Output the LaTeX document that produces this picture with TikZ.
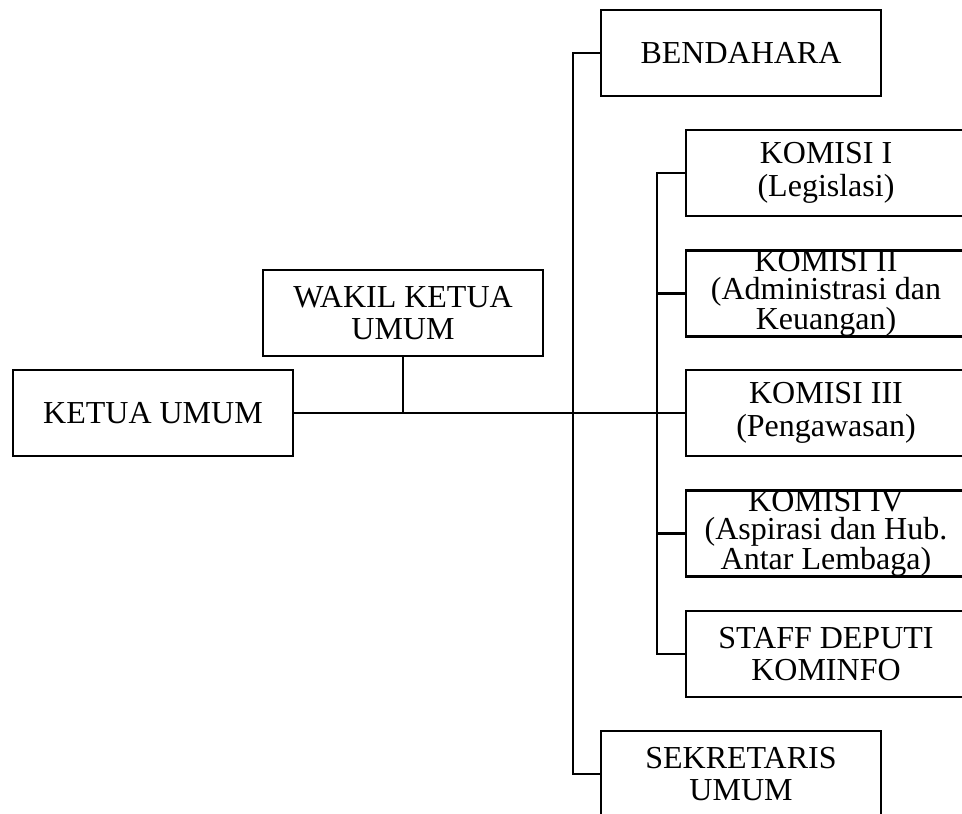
\documentclass[tikz,border=0pt]{standalone}
\usepackage{fontspec}
\setmainfont{Liberation Serif}
\begin{document}
\begin{tikzpicture}[x=0.75pt,y=0.75pt,yscale=-1,xscale=1,
  orgbox/.style={draw,line width=2pt,minimum width=210pt,minimum height=64.5pt,inner sep=0pt,align=center,font=\fontsize{24}{24.5}\selectfont},
  boxtext/.style={inner sep=0pt,align=center,font=\fontsize{24}{21}\selectfont},
  link/.style={line width=2pt}]
\clip (0,0) rectangle (962,813);

% boxes
\node[orgbox] (ketua) at (153,413) {KETUA UMUM};
\node[orgbox] (wakil) at (403,313) {WAKIL KETUA\\UMUM};
\node[orgbox] (bendahara) at (741,53) {BENDAHARA};
\node[orgbox] (komisi1) at (826,173) {KOMISI I\\(Legislasi)};
\node[orgbox,label={[boxtext]center:{KOMISI II\\(Administrasi dan\\Keuangan)}}] (komisi2) at (826,293.5) {};
\node[orgbox] (komisi3) at (826,413) {KOMISI III\\(Pengawasan)};
\node[orgbox,label={[boxtext]center:{KOMISI IV\\(Aspirasi dan Hub.\\Antar Lembaga)}}] (komisi4) at (826,533.5) {};
\node[orgbox] (staff) at (826,654) {STAFF DEPUTI\\KOMINFO};
\node[orgbox] (sekretaris) at (741,774) {SEKRETARIS\\UMUM};

% trunk and branch points
\coordinate (trunk) at (573,413);
\coordinate (branch) at (657,413);

% connectors
\draw[link] (ketua.east) -- (komisi3.west);
\draw[link] (wakil.south) -- (wakil.south |- ketua.east);
\draw[link] (bendahara.west) -| (trunk) |- (sekretaris.west);
\draw[link] (komisi1.west) -| (branch) |- (staff.west);
\foreach \k in {komisi2,komisi4}
  \draw[link] (\k.west) -- (\k.west -| branch);

\end{tikzpicture}
\end{document}
